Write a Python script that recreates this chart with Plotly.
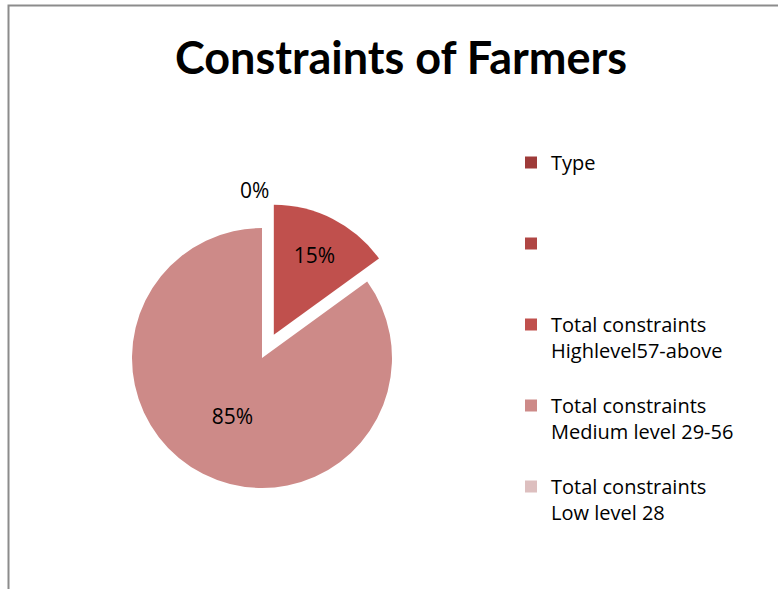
import plotly.graph_objects as go

W, H = 778, 589

categories = ["Type", " ", "Total constraints<br>Highlevel57-above",
              "Total constraints<br>Medium level 29-56", "Total constraints<br>Low level 28"]
values = [0, 0, 15, 85, 0]
colors = ["#9E3B39", "#B04644", "#C0504D", "#CD8A88", "#DDBFBF"]
pulls = [0, 0, 0.2, 0, 0]
title_text = "Constraints of Farmers"
zero_label = "0%"

# pad legend labels so entries are spaced like the reference
legend_labels = []
for c in categories:
    n = c.count("<br>") + 1
    legend_labels.append(c + "<br> " * (3 - n) if n < 3 else c)

cx, cy, R = 262, 358, 130
half = R * (1 + max(pulls))

fig = go.Figure(go.Pie(
    labels=legend_labels,
    values=values,
    marker=dict(colors=colors, line=dict(color="rgba(0,0,0,0)", width=0)),
    pull=pulls,
    sort=False,
    direction="clockwise",
    rotation=0,
    textinfo="percent",
    textposition="inside",
    insidetextorientation="horizontal",
    texttemplate="%{percent:.0%}",
    textfont=dict(family="Open Sans", size=21, color="#000000"),
    domain=dict(x=[(cx - half) / W, (cx + half) / W], y=[1 - (cy + half) / H, 1 - (cy - half) / H]),
    hoverinfo="label+percent",
))

fig.add_annotation(text=zero_label, x=254 / W, y=1 - 190 / H, xref="paper", yref="paper",
                   xanchor="center", yanchor="middle",
                   showarrow=False, font=dict(family="Open Sans", size=21, color="#000000"))

fig.add_shape(type="rect", xref="paper", yref="paper",
              x0=8.5 / W, y0=-0.2, x1=1.2, y1=1 - 5.5 / H,
              line=dict(color="#8C8C8C", width=2), fillcolor="rgba(0,0,0,0)")

fig.update_layout(
    width=W, height=H,
    margin=dict(l=0, r=0, t=0, b=0),
    paper_bgcolor="white",
    plot_bgcolor="white",
    title=dict(text="<b>" + title_text + "</b>", x=401 / W, xanchor="center",
               y=1 - 58 / H, yanchor="middle",
               font=dict(family="Lato", size=45, color="#000000")),
    legend=dict(x=511 / W, y=1 - 143 / H, xanchor="left", yanchor="top",
                valign="top", traceorder="normal",
                font=dict(family="Open Sans", size=20, color="#000000"),
                itemwidth=30, bgcolor="rgba(0,0,0,0)"),
    showlegend=True,
)

fig.write_html("out.html")
